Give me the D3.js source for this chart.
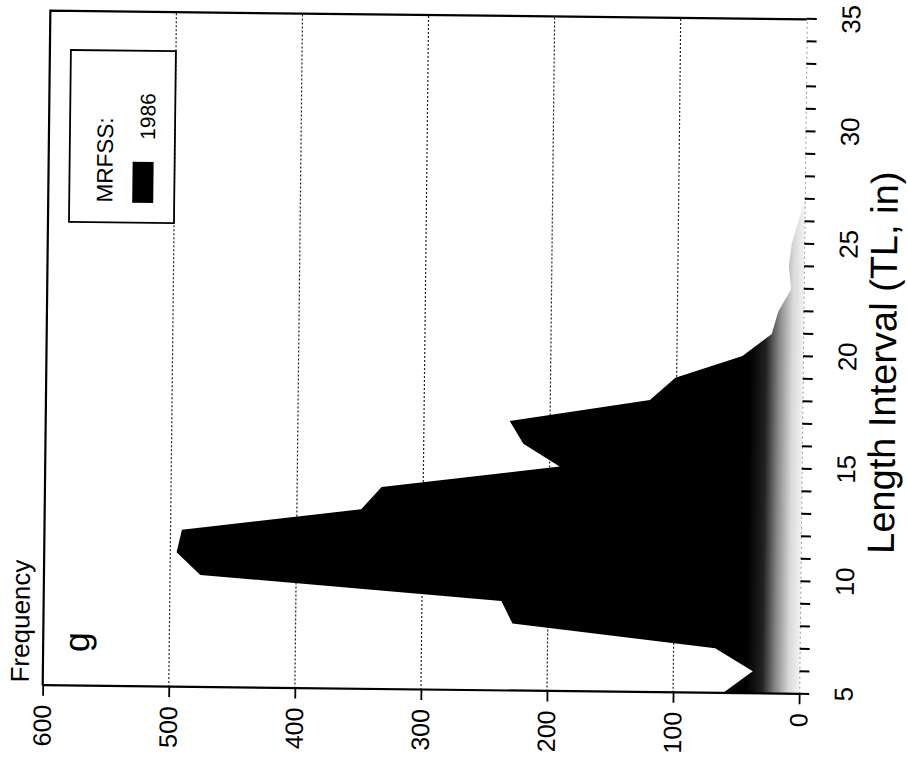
<!DOCTYPE html>
<html>
<head>
<meta charset="utf-8">
<script src="https://cdn.jsdelivr.net/npm/d3@7"></script>
<style>
  html, body { margin: 0; padding: 0; background: #fff; }
  svg { display: block; font-family: "Liberation Sans", Arial, Helvetica, sans-serif; }
</style>
</head>
<body>
<div id="chart"></div>
<script>
// length intervals (TL, inches) and MRFSS 1986 frequencies
const lengths = [5, 6, 7, 8, 9, 10, 11, 12, 13, 14, 15, 16, 17, 18, 19, 20,
                 21, 22, 23, 24, 25, 26, 27, 28, 29, 30, 31, 32, 33, 34, 35];
const freq1986 = [61, 37, 67, 228, 237, 476, 495, 491, 349, 333, 192, 221, 232, 121, 101, 48,
                  25, 20, 10, 12, 10, 5, 0, 0, 0, 0, 0, 0, 0, 0, 0];
const freqTicks = [0, 100, 200, 300, 400, 500, 600];
const gridValues = [100, 200, 300, 400, 500];
const lengthLabels = [5, 10, 15, 20, 25, 30, 35];
const legendTitle = "MRFSS:";
const legendSeries = ["1986"];

const W = 907, H = 772;
// the page was scanned sideways: chart is drawn normally, then turned
const w = 675, h = 756.5;

const svg = d3.select("#chart").append("svg")
    .attr("width", W)
    .attr("height", H);

svg.append("rect").attr("width", W).attr("height", H).attr("fill", "#fff");

const tilt = svg.append("g").attr("transform", "rotate(0.65, 424.5, 352.5)");
const g = tilt.append("g").attr("transform", "translate(46.5,690) rotate(-90)");

const x = d3.scaleLinear().domain([5, 35]).range([0, w]);
const y = d3.scaleLinear().domain([0, 600]).range([h, 0]);

const data = lengths.map((l, i) => ({len: l, freq: freq1986[i]}));

// fill fades to a stipple near the base, as in the print
const grad = svg.append("defs").append("linearGradient")
    .attr("id", "fade")
    .attr("gradientUnits", "userSpaceOnUse")
    .attr("x1", 0).attr("x2", 0)
    .attr("y1", y(42)).attr("y2", y(0));
grad.append("stop").attr("offset", 0).attr("stop-color", "#000");
grad.append("stop").attr("offset", 0.3).attr("stop-color", "#222");
grad.append("stop").attr("offset", 0.55).attr("stop-color", "#888");
grad.append("stop").attr("offset", 0.8).attr("stop-color", "#d8d8d8");
grad.append("stop").attr("offset", 1).attr("stop-color", "#f2f2f2");

// grid
g.selectAll("line.grid")
    .data(gridValues)
    .enter().append("line")
    .attr("class", "grid")
    .attr("x1", 0).attr("x2", w)
    .attr("y1", d => y(d)).attr("y2", d => y(d))
    .attr("stroke", "#222")
    .attr("stroke-width", 1.2)
    .attr("stroke-dasharray", "2,2");

// frequency polygon
const area = d3.area()
    .x(d => x(d.len))
    .y0(y(0))
    .y1(d => y(d.freq));

g.append("path")
    .datum(data)
    .attr("d", area)
    .attr("fill", "url(#fade)");

// frame: top and right borders
g.append("path")
    .attr("d", `M0,${y(600)}H${x(35)}V${y(0)}`)
    .attr("fill", "none")
    .attr("stroke", "#000")
    .attr("stroke-width", 2.2);

// frequency axis
const yAxis = g.append("g")
    .call(d3.axisLeft(y).tickValues(freqTicks).tickSize(10).tickSizeOuter(0).tickPadding(9));
yAxis.select(".domain").attr("stroke-width", 2.2);
yAxis.selectAll(".tick line").attr("stroke-width", 1.8);
yAxis.selectAll(".tick text")
    .attr("font-size", 25)
    .attr("font-family", "Liberation Sans, Arial, sans-serif")
    .attr("fill", "#000");

// length axis
const xAxis = g.append("g")
    .attr("transform", `translate(0,${h})`)
    .call(d3.axisBottom(x).tickValues(lengths).tickSize(10).tickSizeOuter(0).tickPadding(25)
        .tickFormat(d => lengthLabels.includes(d) ? d : ""));
xAxis.select(".domain")
    .attr("stroke", "#999")
    .attr("stroke-width", 1)
    .attr("stroke-dasharray", "2,3");
xAxis.selectAll(".tick line").attr("stroke-width", 2);
xAxis.selectAll(".tick text")
    .attr("font-size", 26)
    .attr("font-family", "Liberation Sans, Arial, sans-serif")
    .attr("fill", "#000");

// axis titles
g.append("text")
    .attr("x", w / 2 - 5)
    .attr("y", h + 93)
    .attr("text-anchor", "middle")
    .attr("font-size", 38)
    .text("Length Interval (TL, in)");

g.append("text")
    .attr("x", 3)
    .attr("y", -14)
    .attr("font-size", 26)
    .text("Frequency");

// panel letter
g.append("text")
    .attr("x", 34)
    .attr("y", 46)
    .attr("font-size", 36)
    .text("g");

// legend
const legend = g.append("g").attr("transform", "translate(464,21)");
legend.append("rect")
    .attr("width", 172).attr("height", 105)
    .attr("fill", "#fff")
    .attr("stroke", "#000")
    .attr("stroke-width", 1.8);
legend.append("text")
    .attr("x", 20).attr("y", 43)
    .attr("font-size", 22.5)
    .text(legendTitle);
legend.selectAll("g.item")
    .data(legendSeries)
    .enter().append("g")
    .attr("class", "item")
    .each(function(d) {
        const item = d3.select(this);
        item.append("rect")
            .attr("x", 20).attr("y", 63)
            .attr("width", 41).attr("height", 21)
            .attr("fill", "#000");
        item.append("text")
            .attr("x", 83).attr("y", 85)
            .attr("font-size", 21)
            .text(d);
    });
</script>
</body>
</html>
